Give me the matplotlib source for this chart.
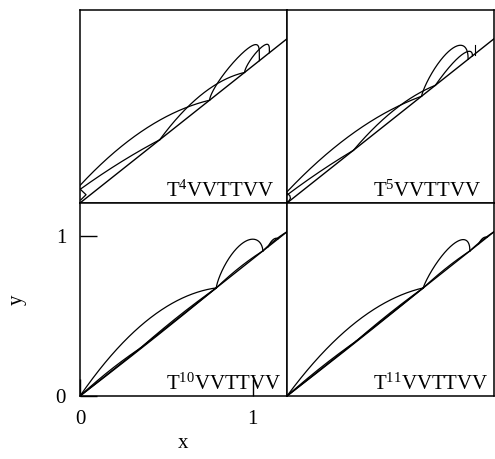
import numpy as np
import matplotlib
matplotlib.use('Agg')
import matplotlib.pyplot as plt

plt.rcParams['font.family'] = ['Liberation Serif', 'DejaVu Serif']
plt.rcParams['mathtext.fontset'] = 'custom'
plt.rcParams['mathtext.rm'] = 'Liberation Serif'
plt.rcParams['mathtext.it'] = 'Liberation Serif:italic'

# slope of the straight line y = k*x drawn in every panel
k_line = 0.858

# arcs above the line: (x start, x end, offset at start, height, a, b)
t4_arcs = [
    (0.0, 0.751, 0.11, 0.085, 1.0, 1.0),
    (0.0, 0.462, 0.085, 0.012, 1.0, 1.0),
    (0.462, 0.954, 0.0, 0.075, 1.0, 1.0),
    (0.751, 1.04, 0.0, 0.134, 0.6, 0.2),
    (0.954, 1.098, 0.0, 0.074, 0.6, 0.25),
]
t5_arcs = [
    (0.0, 0.78, 0.07, 0.073, 1.0, 1.0),
    (0.0, 0.385, 0.05, 0.008, 1.0, 1.0),
    (0.385, 0.86, 0.0, 0.05, 1.0, 1.0),
    (0.78, 1.05, 0.0, 0.147, 0.75, 0.45),
    (0.86, 1.075, 0.0, 0.06, 1.0, 0.45),
]
t10_arcs = [
    (0.0, 0.79, 0.0, 0.14, 1.0, 1.0),
    (0.79, 1.06, 0.0, 0.15, 0.7, 0.6),
    (1.09, 1.15, 0.0, 0.02, 1.0, 1.0),
    (0.0, 0.35, 0.0, 0.012, 1.0, 1.0),
    (0.35, 0.79, 0.0, 0.01, 1.0, 1.0),
    (0.0, 0.79, 0.0, -0.006, 1.0, 1.0),
    (0.79, 1.06, 0.0, 0.012, 1.0, 1.0),
    (1.06, 1.2, 0.0, 0.008, 1.0, 1.0),
]
t11_arcs = [
    (0.0, 0.79, 0.0, 0.12, 1.0, 1.0),
    (0.79, 1.06, 0.0, 0.125, 0.8, 0.45),
    (1.11, 1.16, 0.0, 0.015, 1.0, 1.0),
    (0.0, 0.4, 0.0, 0.01, 1.0, 1.0),
    (0.4, 0.79, 0.0, 0.008, 1.0, 1.0),
    (0.0, 0.79, 0.0, -0.005, 1.0, 1.0),
    (0.79, 1.06, 0.0, 0.01, 1.0, 1.0),
    (1.06, 1.2, 0.0, 0.006, 1.0, 1.0),
]

# small extra pieces near the left edge of the upper panels
t4_wedge_x = [0.0, 0.035, 0.005]
t4_wedge_y = [0.088, 0.052, 0.02]
t5_wedge_x = [0.0, 0.016, 0.02, 0.012, 0.0]
t5_wedge_y = [0.06, 0.047, 0.03, 0.014, 0.005]
t5_tick_x = [1.09, 1.09]
t5_tick_y = [0.93, 0.99]

panel_labels = [r'$\mathrm{T^{4}VVTTVV}$', r'$\mathrm{T^{5}VVTTVV}$',
                r'$\mathrm{T^{10}VVTTVV}$', r'$\mathrm{T^{11}VVTTVV}$']
panel_arcs = [t4_arcs, t5_arcs, t10_arcs, t11_arcs]

fig = plt.figure(figsize=(4.95, 4.59), dpi=100)

left, bottom = 80 / 495, 63 / 459
w, h = 207 / 495, 193 / 459
positions = [[left, bottom + h, w, h], [left + w, bottom + h, w, h],
             [left, bottom, w, h], [left + w, bottom, w, h]]

axes = []
for pos, arcs, label in zip(positions, panel_arcs, panel_labels):
    ax = fig.add_axes(pos)
    ax.set_xlim(0, 1.2)
    ax.set_ylim(0, 1.21)
    xs = np.linspace(0, 1.2, 50)
    ax.plot(xs, k_line * xs, color='black', lw=1.0)
    for x0, x1, d0, hh, a, b in arcs:
        t = np.linspace(0, 1, 300)
        tp = a / (a + b)
        peak = tp ** a * (1 - tp) ** b
        x = x0 + t * (x1 - x0)
        y = k_line * x + d0 * (1 - t) + hh * t ** a * (1 - t) ** b / peak
        ax.plot(x, y, color='black', lw=0.9)
    ax.text(0.5, 0.04, label, fontsize=15, ha='left', va='baseline')
    for s in ax.spines.values():
        s.set_linewidth(1.1)
    ax.set_xticks([])
    ax.set_yticks([])
    axes.append(ax)

axes[0].plot(t4_wedge_x, t4_wedge_y, color='black', lw=0.9)
axes[1].plot(t5_wedge_x, t5_wedge_y, color='black', lw=0.9)
axes[1].plot(t5_tick_x, t5_tick_y, color='black', lw=0.8)

# ticks only on the lower left panel
ax = axes[2]
ax.set_xticks([0, 1])
ax.set_yticks([0, 1])
ax.set_xticklabels(['0', '1'])
ax.set_yticklabels(['0', '1'])
ax.tick_params(direction='in', length=12, width=1.0, labelsize=15, pad=10)

fig.text(183 / 495, 1 - 444 / 459, 'x', fontsize=15, ha='center', va='center')
fig.text(17 / 495, 1 - 300 / 459, 'y', fontsize=15, ha='center', va='center',
         rotation=90)

fig.savefig('out.png', dpi=100)
